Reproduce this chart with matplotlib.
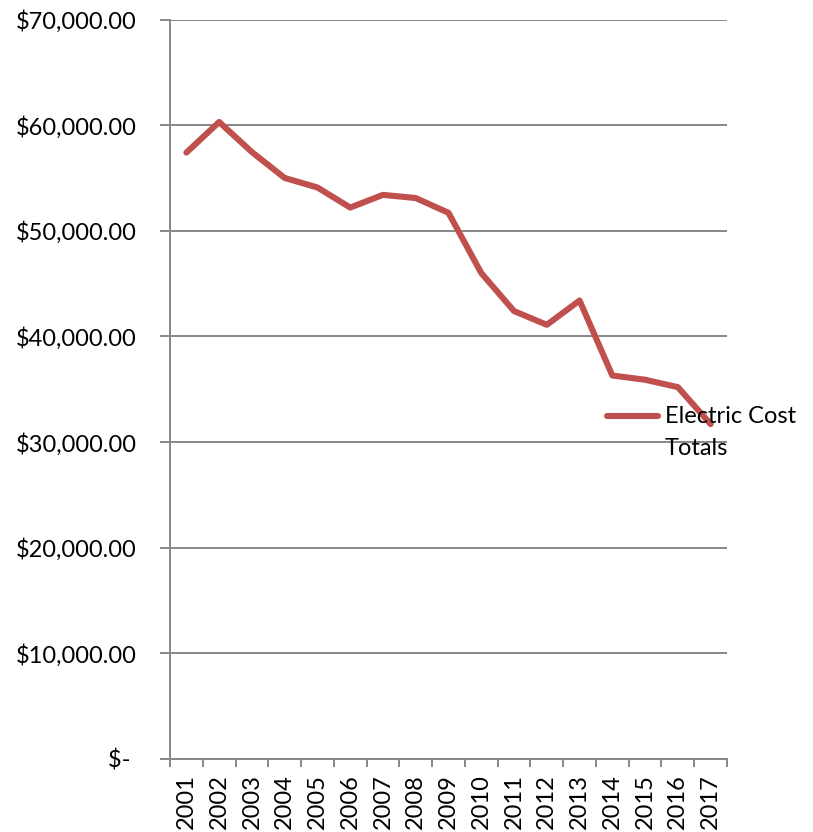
import matplotlib
matplotlib.use("Agg")
import matplotlib.pyplot as plt
from matplotlib.lines import Line2D
from matplotlib.ticker import FixedLocator, FuncFormatter

years = [str(y) for y in range(2001, 2018)]
electric_cost = [57400, 60300, 57450, 55000, 54100, 52200, 53400, 53100, 51700,
                 46000, 42400, 41100, 43400, 36300, 35900, 35200, 31700]
series_name = "Electric Cost\nTotals"
y_ticks = [0, 10000, 20000, 30000, 40000, 50000, 60000, 70000]

LINE_COLOR = "#C0504D"
GRID_COLOR = "#878787"
FONT = ["Lato", "DejaVu Sans"]
FS = 17.0
plt.rcParams["font.family"] = FONT

fig = plt.figure(figsize=(8.13, 8.32), dpi=100)
ax = fig.add_axes([170 / 813, 1 - 759 / 832, (727 - 170) / 813, (759 - 19.5) / 832])

x = list(range(len(years)))
ax.plot(x, electric_cost, color=LINE_COLOR, linewidth=4.4,
        solid_capstyle="round", solid_joinstyle="round", zorder=3)

ax.set_xlim(-0.5, len(years) - 0.5)
ax.set_ylim(0, 70000)

def money(v, pos):
    if v == 0:
        return "$- "
    return f"${v:,.2f}"

ax.yaxis.set_major_locator(FixedLocator(y_ticks))
ax.yaxis.set_major_formatter(FuncFormatter(money))
ax.grid(axis="y", color=GRID_COLOR, linewidth=1.4, zorder=1)

# category boundaries carry the tick marks, centres carry the labels
ax.set_xticks([i - 0.5 for i in range(len(years) + 1)])
ax.set_xticklabels([])
ax.set_xticks(x, minor=True)
ax.set_xticklabels(years, minor=True, rotation=90)
ax.tick_params(axis="x", which="major", length=5.8, width=1.4, color=GRID_COLOR, direction="out")
ax.tick_params(axis="x", which="minor", length=0, pad=11, labelsize=FS)
ax.tick_params(axis="y", length=7.2, width=1.4, color=GRID_COLOR, direction="out",
               labelsize=FS, pad=17)

for side in ("top", "right"):
    ax.spines[side].set_visible(False)
for side in ("left", "bottom"):
    ax.spines[side].set_color(GRID_COLOR)
    ax.spines[side].set_linewidth(1.4)

# legend entry: line sample beside the series name
fig.add_artist(Line2D([607 / 813, 658 / 813], [1 - 416 / 832, 1 - 416 / 832],
                      color=LINE_COLOR, linewidth=4.4, solid_capstyle="round"))
fig.text(665 / 813, 1 - 406 / 832, series_name, fontsize=FS, ha="left", va="top",
         linespacing=1.62, transform=fig.transFigure, zorder=5)

fig.savefig("out.png", dpi=100)
